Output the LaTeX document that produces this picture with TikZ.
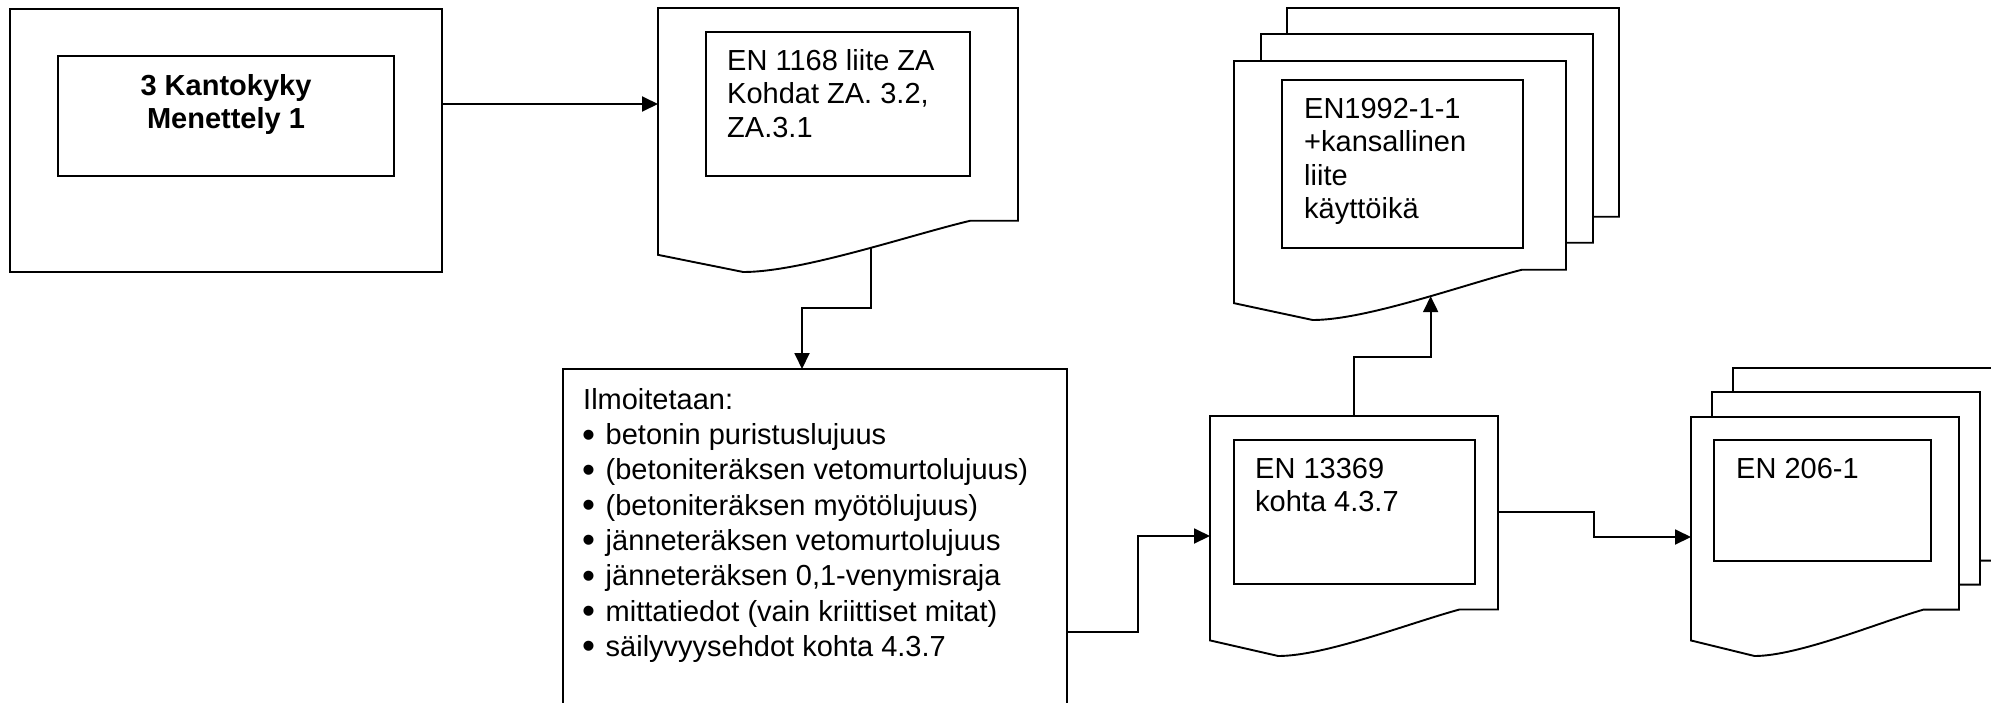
\documentclass[tikz,border=0pt]{standalone}
\usepackage{fontspec}
\setmainfont{Liberation Sans}
\usetikzlibrary{arrows.meta}

% strut that fixes the top of a text block 26pt above its first baseline
\newcommand\fs{\rule{0pt}{26pt}}
% list bullet, a little heavier than the text font's own
\newcommand\bul{\makebox[22.5pt][l]{\kern-1pt\raisebox{-2.5pt}{\fontsize{37}{37}\selectfont\textbullet}}}

% document sheet with a wavy lower edge: name, x, y (top left), width, height
\newcommand\docpage[5]{%
  \begin{scope}[shift={(#2,#3)}, x=#4pt, y=-#5pt]
    \draw[docline] (0,0) -- (1,0) -- (1,0.806) -- (0.867,0.806)
      .. controls (0.70,0.86) and (0.40,1) .. coordinate[pos=0.44] (#1-w) (0.237,1)
      -- (0,0.935) -- cycle;
    \node[anchor=north west, inner sep=0pt, outer sep=0pt,
          minimum width=#4pt, minimum height=#5pt] (#1) at (0,0) {};
  \end{scope}}

\begin{document}
\begin{tikzpicture}[x=1pt, y=-1pt,
  box/.style={draw, line width=1.9pt, inner sep=0pt, outer sep=0pt, anchor=north west},
  docline/.style={draw, fill=white, line width=1.9pt, line join=miter},
  txt/.style={anchor=north west, inner sep=0pt, align=left,
              font=\fontsize{29}{33.5}\selectfont},
  arr/.style={line width=1.9pt, -{Triangle[length=16pt 0,width=15pt 0]}}]
\useasboundingbox (0,0) rectangle (1991,702);

% starting block
\node[box, minimum width=432pt, minimum height=263pt] (A) at (10,9) {};
\node[box, minimum width=336pt, minimum height=120pt] (Ai) at (58,56) {};
\node[anchor=north, inner sep=0pt, align=center,
      font=\fontsize{29}{33}\selectfont\bfseries] (At) at (226,69)
  {\fs 3 Kantokyky\\Menettely 1};

% EN 1168
\docpage{d1}{658}{8}{360}{264}
\node[box, minimum width=264pt, minimum height=144pt] (d1i) at (706,32) {};
\node[txt] (d1t) at (727,44) {\fs EN 1168 liite ZA\\Kohdat ZA. 3.2,\\ZA.3.1};

% list of declared properties
\node[box, minimum width=504pt, minimum height=400pt] (B) at (563,369) {};
\node[txt, font=\fontsize{29}{35.3}\selectfont] (Bt) at (583,383)
  {\fs Ilmoitetaan:\\
   \bul betonin puristuslujuus\\
   \bul (betoniteräksen vetomurtolujuus)\\
   \bul (betoniteräksen myötölujuus)\\
   \bul jänneteräksen vetomurtolujuus\\
   \bul jänneteräksen 0,1-venymisraja\\
   \bul mittatiedot (vain kriittiset mitat)\\
   \bul säilyvyysehdot kohta 4.3.7};

% EN 1992-1-1 stack
\docpage{d2b}{1287}{8}{332}{259}
\docpage{d2m}{1261}{34}{332}{259}
\docpage{d2}{1234}{61}{332}{259}
\node[box, minimum width=241pt, minimum height=168pt] (d2i) at (1282,80) {};
\node[txt] (d2t) at (1304,92) {\fs EN1992-1-1\\+kansallinen\\liite\\käyttöikä};

% EN 13369
\docpage{d3}{1210}{416}{288}{240}
\node[box, minimum width=241pt, minimum height=144pt] (d3i) at (1234,440) {};
\node[txt] (d3t) at (1255,452) {\fs EN 13369\\kohta 4.3.7};

% EN 206-1 stack
\docpage{d4b}{1733}{368}{268}{239}
\docpage{d4m}{1712}{392}{268}{239}
\docpage{d4}{1691}{417}{268}{239}
\node[box, minimum width=217pt, minimum height=121pt] (d4i) at (1714,440) {};
\node[txt] (d4t) at (1736,452) {\fs EN 206-1};

% bend points of the connectors
\coordinate (k0) at (0,104);
\coordinate (k1) at (802,308);
\coordinate (k2) at (1138,632);
\coordinate (k3) at (1138,536);
\coordinate (k4) at (0,357);
\coordinate (k5) at (1594,512);
\coordinate (k6) at (1594,537);

% connectors
\draw[arr] (A.east |- k0) -- (d1.west |- k0);
\draw[arr] (d1-w) |- (k1) -- (k1 |- B.north);
\draw[arr] (B.east |- k2) -- (k2) -- (k3) -- (d3.west |- k3);
\draw[arr] (d3.north) |- (d2-w |- k4) -- (d2-w);
\draw[arr] (d3.east |- k5) -- (k5) -- (k6) -- (d4.west |- k6);
\end{tikzpicture}
\end{document}
